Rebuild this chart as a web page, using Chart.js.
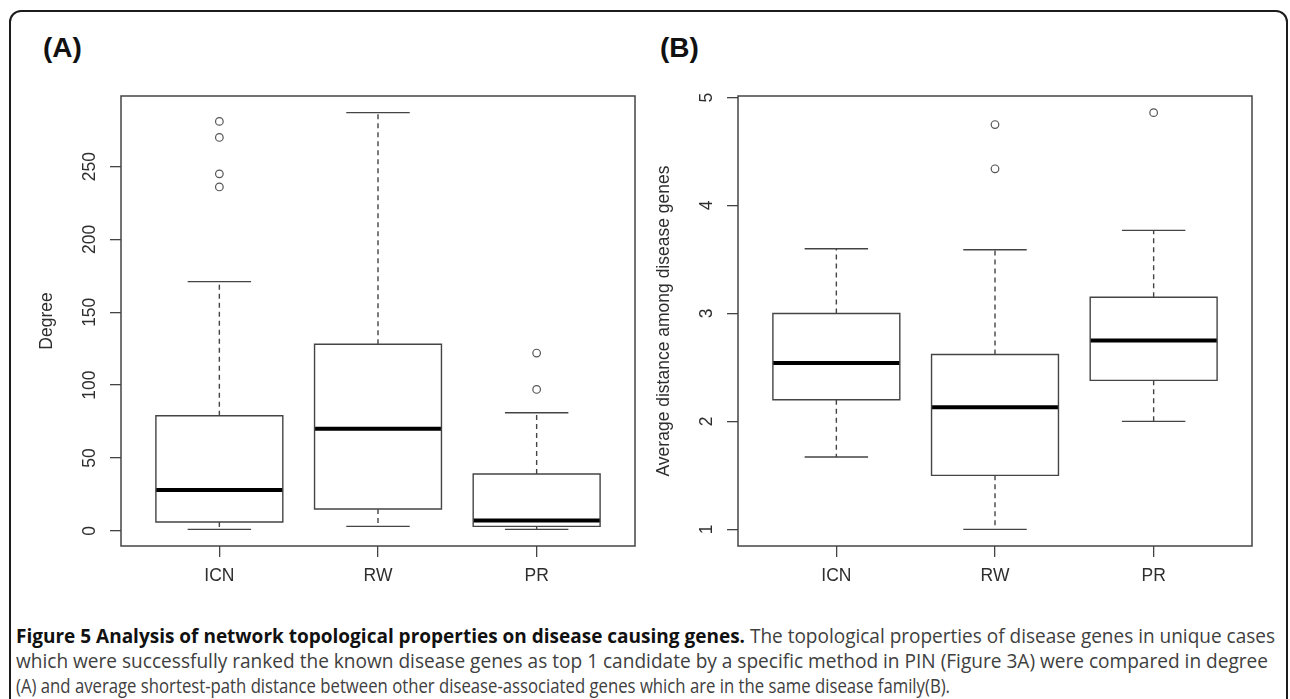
<!DOCTYPE html>
<html>
<head>
<meta charset="utf-8">
<script src="https://cdn.jsdelivr.net/npm/chart.js@4.4.1/dist/chart.umd.min.js"></script>
<style>
	body{margin:0; background:#fff; width:1290px; height:699px; overflow:hidden; position:relative;
		font-family:"Liberation Sans", Arial, sans-serif;}
	.marco{position:absolute; left:9px; top:10px; width:1275px; height:760px;
		border:2px solid #1c1c1c; border-radius:12px;}
	.panel{position:absolute; top:0; width:645px; height:610px;}
	.letra{position:absolute; top:34px; font-weight:bold; font-size:28px; line-height:28px; color:#111;}
	.linea{position:absolute; left:16px; white-space:nowrap; font-family:"Open Sans", sans-serif;
		font-size:20px; line-height:25px; color:#404040; transform-origin:0 0;}
	.linea b{color:#111;}
</style>
</head>
<body>
	<div class="marco"></div>

	<div class="letra" style="left:43px;">(A)</div>
	<div class="letra" style="left:660px;">(B)</div>

	<div class="panel" style="left:0;"><canvas id="graficoGrado" width="645" height="610"></canvas></div>
	<div class="panel" style="left:617px;"><canvas id="graficoDistancia" width="645" height="610"></canvas></div>

	<div class="linea" id="linea1" style="top:623px;"><b>Figure 5 Analysis of network topological properties on disease causing genes.</b> The topological properties of disease genes in unique cases</div>
	<div class="linea" id="linea2" style="top:648px;">which were successfully ranked the known disease genes as top 1 candidate by a specific method in PIN (Figure 3A) were compared in degree</div>
	<div class="linea" id="linea3" style="top:673px;">(A) and average shortest-path distance between other disease-associated genes which are in the same disease family(B).</div>

<script>
	//Categorias del eje x
	const categorias = ["ICN", "RW", "PR"];

	//Panel A: grado (bigote inferior, Q1, mediana, Q3, bigote superior, atipicos)
	const gradoBajo    = [1, 3, 1];
	const gradoQ1      = [6, 15, 3];
	const gradoMediana = [28, 70, 7];
	const gradoQ3      = [79, 128, 39];
	const gradoAlto    = [171, 287, 81];
	const gradoAtipicos = [[236, 245, 270, 281], [], [97, 122]];

	//Panel B: distancia promedio entre genes de enfermedad
	const distBajo    = [1.67, 1.0, 2.0];
	const distQ1      = [2.2, 1.5, 2.38];
	const distMediana = [2.54, 2.13, 2.75];
	const distQ3      = [3.0, 2.62, 3.15];
	const distAlto    = [3.6, 3.59, 3.77];
	const distAtipicos = [[], [4.34, 4.75], [4.86]];

	const fuente = {family: '"Liberation Sans", Arial, sans-serif', size: 17.5};
	const colorTexto = "#2e2e2e";
	const colorLinea = "#444";

	//Dibuja la caja del grafico y las etiquetas del eje y giradas (como en R)
	const marcoR = {
		id: "marcoR",
		afterDraw: function(chart){
			const ctx = chart.ctx;
			const area = chart.chartArea;
			const ejeY = chart.scales.y;

			ctx.save();
			ctx.strokeStyle = colorLinea;
			ctx.lineWidth = 1.5;
			ctx.strokeRect(area.left, area.top, area.right - area.left, area.bottom - area.top);

			ctx.fillStyle = colorTexto;
			ctx.font = fuente.size + "px " + fuente.family;
			ctx.textAlign = "center";
			ctx.textBaseline = "middle";
			ejeY.ticks.forEach(tick => {
				ctx.save();
				ctx.translate(area.left - 31, ejeY.getPixelForValue(tick.value));
				ctx.rotate(-Math.PI / 2);
				ctx.fillText(String(tick.value), 0, 0);
				ctx.restore();
			});
			ctx.restore();
		}
	};

	function crearDatasets(bajo, q1, mediana, q3, alto, atipicos){
		let cajas = [], medianas = [], bigotes = [], topes = [], puntos = [];

		for(let i = 0; i < categorias.length; i++){
			let x = i + 1;

			cajas.push({x: x - 0.4, y: q1[i]}, {x: x + 0.4, y: q1[i]}, {x: x + 0.4, y: q3[i]},
					   {x: x - 0.4, y: q3[i]}, {x: x - 0.4, y: q1[i]}, {x: x, y: null});
			medianas.push({x: x - 0.4, y: mediana[i]}, {x: x + 0.4, y: mediana[i]}, {x: x, y: null});
			bigotes.push({x: x, y: q3[i]}, {x: x, y: alto[i]}, {x: x, y: null},
						 {x: x, y: q1[i]}, {x: x, y: bajo[i]}, {x: x, y: null});
			topes.push({x: x - 0.2, y: alto[i]}, {x: x + 0.2, y: alto[i]}, {x: x, y: null},
					   {x: x - 0.2, y: bajo[i]}, {x: x + 0.2, y: bajo[i]}, {x: x, y: null});
			atipicos[i].forEach(valor => puntos.push({x: x, y: valor}));
		}

		const linea = {pointRadius: 0, borderColor: colorLinea, borderWidth: 1.4, tension: 0, spanGaps: false};

		return [
			Object.assign({data: cajas, borderJoinStyle: "miter", borderCapStyle: "square"}, linea),
			Object.assign({data: bigotes, borderDash: [5, 4]}, linea),
			Object.assign({data: topes}, linea),
			Object.assign({}, linea, {data: medianas, borderColor: "#000", borderWidth: 4}),
			{data: puntos, showLine: false, pointRadius: 3.8, pointStyle: "circle",
			 pointBorderColor: "#555", pointBackgroundColor: "rgba(0,0,0,0)", pointBorderWidth: 1.2}
		];
	}

	function crearGrafico(id, datasets, minimo, maximo, paso, titulo){
		//Se extiende el rango un 4% como lo hace R
		let margen = (maximo - minimo) * 0.04;

		return new Chart(id, {
			type: "line",
			data: {datasets: datasets},
			options: {
				responsive: false,
				animation: false,
				events: [],
				layout: {padding: {left: 37, right: 10, top: 96, bottom: 14}},
				plugins: {legend: {display: false}, tooltip: {enabled: false}},
				scales: {
					x: {
						type: "linear",
						min: 0.38,
						max: 3.62,
						afterFit: function(eje){ eje.height = 50; },
						border: {display: false},
						grid: {drawOnChartArea: false, drawTicks: true, tickLength: 11, color: colorLinea, lineWidth: 1.3},
						ticks: {
							stepSize: 1,
							includeBounds: false,
							autoSkip: false,
							maxRotation: 0,
							padding: 9,
							color: colorTexto,
							font: fuente,
							callback: function(valor){ return categorias[valor - 1] || ""; }
						}
					},
					y: {
						type: "linear",
						min: minimo - margen,
						max: maximo + margen,
						afterFit: function(eje){ eje.width = 84; },
						border: {display: false},
						grid: {drawOnChartArea: false, drawTicks: true, tickLength: 11, color: colorLinea, lineWidth: 1.3},
						ticks: {stepSize: paso, includeBounds: false, display: false},
						title: {display: true, text: titulo, color: colorTexto, font: fuente, padding: 0}
					}
				}
			},
			plugins: [marcoR]
		});
	}

	crearGrafico("graficoGrado",
		crearDatasets(gradoBajo, gradoQ1, gradoMediana, gradoQ3, gradoAlto, gradoAtipicos),
		Math.min(...gradoBajo), Math.max(...gradoAlto, ...gradoAtipicos.flat()), 50, "Degree");

	crearGrafico("graficoDistancia",
		crearDatasets(distBajo, distQ1, distMediana, distQ3, distAlto, distAtipicos),
		Math.min(...distBajo), Math.max(...distAlto, ...distAtipicos.flat()), 1, "Average distance among disease genes");

	//Se ajusta el ancho de cada linea del pie de figura
	const anchos = {linea1: 1259, linea2: 1252, linea3: 934};
	Object.keys(anchos).forEach(id => {
		let elemento = document.getElementById(id);
		let natural = elemento.getBoundingClientRect().width;
		elemento.style.transform = "scaleX(" + (anchos[id] / natural) + ")";
	});
</script>
</body>
</html>
